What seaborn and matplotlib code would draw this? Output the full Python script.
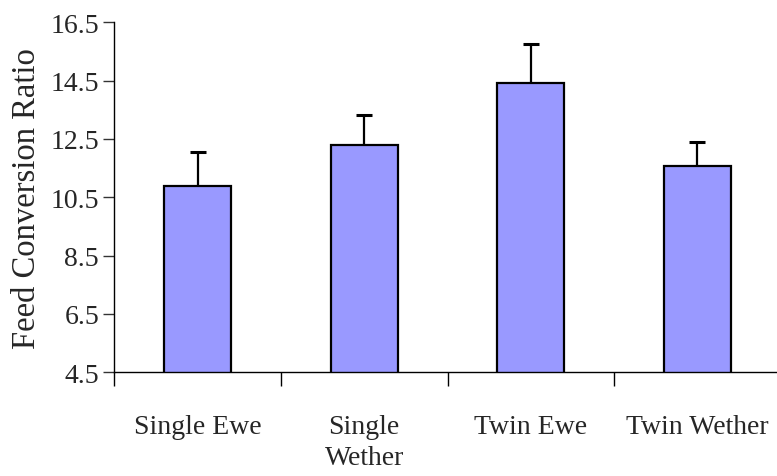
import matplotlib
matplotlib.use("Agg")
import matplotlib.pyplot as plt
import seaborn as sns
import numpy as np
import pandas as pd

categories = ["Single Ewe", "Single\nWether", "Twin Ewe", "Twin Wether"]
fcr_means = [10.88, 12.30, 14.41, 11.56]
fcr_errors = [1.17, 1.01, 1.35, 0.82]
y_ticks = [4.5, 6.5, 8.5, 10.5, 12.5, 14.5, 16.5]

sns.set_style("white")
plt.rcParams["font.family"] = ["Liberation Serif", "DejaVu Serif"]

fig = plt.figure(figsize=(7.77, 4.77), dpi=100)
ax = fig.add_axes([114.3 / 777, (477 - 373.3) / 477, (780.7 - 114.3) / 777, 350 / 477])

df = pd.DataFrame({"group": categories, "fcr": fcr_means})
sns.barplot(data=df, x="group", y="fcr", color="#9999FF", saturation=1,
            edgecolor="black", linewidth=1.6, width=0.4, ax=ax, zorder=2)

eb = ax.errorbar(np.arange(len(categories)), fcr_means,
                 yerr=[np.zeros(len(fcr_errors)), fcr_errors],
                 fmt="none", ecolor="black", elinewidth=1.6, capsize=5.5, capthick=2.2, zorder=1)
eb[1][0].set_visible(False)

ax.set_xlim(-0.5, len(categories) - 0.5)
ax.set_ylim(4.5, 16.5)
ax.set_yticks(y_ticks)
ax.set_yticklabels([f"{t:.1f}" for t in y_ticks])
ax.set_ylabel("Feed Conversion Ratio", fontsize=23.5, labelpad=6)
ax.set_xlabel("")

ax.set_xticks(np.arange(len(categories)))
ax.set_xticklabels(categories, fontsize=20, linespacing=1.3)
ax.tick_params(axis="x", which="major", length=0, pad=30, bottom=True)
ax.set_xticks(np.arange(-0.5, len(categories)), minor=True)
ax.tick_params(axis="x", which="minor", length=10, width=1, color="black",
               direction="out", bottom=True)
ax.tick_params(axis="y", which="major", length=8, width=1, color="#333333",
               labelsize=20, pad=3, direction="out", left=True)

for s in ["top", "right"]:
    ax.spines[s].set_visible(False)
for s in ["left", "bottom"]:
    ax.spines[s].set_color("black")
    ax.spines[s].set_linewidth(1)

fig.savefig("out.png", dpi=100)
